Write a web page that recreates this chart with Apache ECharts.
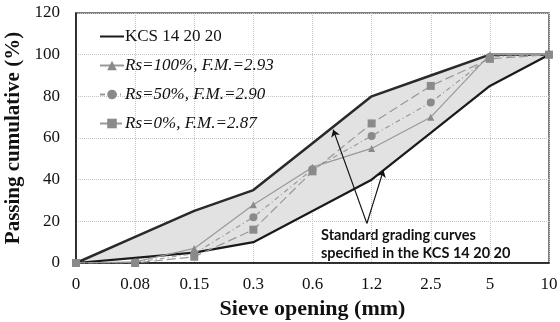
<!DOCTYPE html>
<html>
<head>
<meta charset="utf-8">
<script src="https://cdn.jsdelivr.net/npm/echarts@6/dist/echarts.min.js"></script>
<style>
  html, body { margin: 0; padding: 0; background: #fff; }
  #chart { width: 560px; height: 322px; }
</style>
</head>
<body>
<div id="chart"></div>
<script>
// sieve sizes (mm) and passing percentages
const sieves = ["0", "0.08", "0.15", "0.3", "0.6", "1.2", "2.5", "5", "10"];
const kcsLower = [0, 2.5, 5, 10, 25, 40, 62.5, 85, 100];
const kcsUpper = [0, 12.5, 25, 35, 57.5, 80, 90, 100, 100];
const rs100 = [0, 0.5, 7, 28, 46, 55, 70, 100, 100];
const rs50 = [0, 0.3, 4.5, 22, 45, 61, 77, 99, 100];
const rs0 = [0, 0, 3, 16, 44, 67, 85, 98, 100];
const yTicks = [0, 20, 40, 60, 80, 100, 120];

// arrow annotation: start (apex) and the two tips, [sieve index, percent]
const arrowFrom = [4.92, 19];
const arrowTips = [[4.35, 64], [5.2, 44.6]];

const serif = "Liberation Serif";
const gray = "#8a8a8a";

const chart = echarts.init(document.getElementById("chart"));

const option = {
    animation: false,
    grid: {
        left: 76,
        right: 11,
        top: 13,
        bottom: 59,
        outerBoundsMode: "none",
        show: true,
        borderColor: "#555",
        borderWidth: 1.5,
    },
    legend: {
        orient: "vertical",
        left: 94,
        top: 23,
        itemWidth: 24,
        itemHeight: 12,
        itemGap: 12,
        textStyle: { fontFamily: serif, fontSize: 17, color: "#111", padding: [0, 0, 0, -4] },
        data: [
            // no marker on the KCS legend line
            { name: "KCS 14 20 20", itemStyle: { opacity: 0 } },
            { name: "Rs=100%, F.M.=2.93", textStyle: { fontStyle: "italic" } },
            { name: "Rs=50%, F.M.=2.90", textStyle: { fontStyle: "italic" } },
            { name: "Rs=0%, F.M.=2.87", textStyle: { fontStyle: "italic" } },
        ],
    },
    xAxis: [
        {
            type: "category",
            data: sieves,
            boundaryGap: false,
            name: "Sieve opening (mm)",
            nameLocation: "middle",
            nameGap: 31,
            nameTextStyle: { fontFamily: serif, fontSize: 22, fontWeight: "bold", color: "#111" },
            axisLine: { lineStyle: { color: "#111", width: 1.5 } },
            axisTick: { show: false },
            axisLabel: { fontFamily: serif, fontSize: 17, color: "#111", margin: 13 },
            splitLine: { show: true, lineStyle: { color: "#c4c4c4", type: "dotted" } },
        },
        {
            // hidden helper axis so the arrows can sit between sieve sizes
            type: "value",
            min: 0,
            max: sieves.length - 1,
            show: false,
        },
    ],
    yAxis: {
        type: "value",
        min: yTicks[0],
        max: yTicks[yTicks.length - 1],
        interval: 20,
        name: "Passing cumulative (%)",
        nameLocation: "middle",
        nameGap: 49,
        nameTextStyle: { fontFamily: serif, fontSize: 21, fontWeight: "bold", color: "#111" },
        axisLine: { show: true, lineStyle: { color: "#111", width: 1.5 } },
        axisTick: { show: false },
        axisLabel: { fontFamily: serif, fontSize: 17, color: "#111", margin: 16 },
        splitLine: { lineStyle: { color: "#c4c4c4", type: "dotted" } },
    },
    graphic: [
        {
            type: "text",
            left: 321,
            top: 226,
            style: {
                text: "Standard grading curves\nspecified in the KCS 14 20 20",
                font: "bold 14.5px Lato",
                lineHeight: 18,
                fill: "#111",
            },
        },
    ],
    series: [
        {
            name: "KCS 14 20 20",
            type: "line",
            stack: "band",
            symbol: "none",
            z: 3,
            color: "#1a1a1a",
            lineStyle: { color: "#1a1a1a", width: 2.2 },
            data: kcsLower,
        },
        {
            name: "KCS 14 20 20",
            type: "line",
            stack: "band",
            symbol: "none",
            z: 3,
            color: "#1a1a1a",
            lineStyle: { color: "#2a2a2a", width: 2.5 },
            areaStyle: { color: "#e2e2e2", opacity: 1 },
            data: kcsUpper.map((v, i) => v - kcsLower[i]),
        },
        {
            name: "Rs=100%, F.M.=2.93",
            type: "line",
            symbol: "triangle",
            symbolSize: 7,
            z: 4,
            color: gray,
            lineStyle: { color: "#999", width: 1.2 },
            itemStyle: { color: gray },
            data: rs100,
        },
        {
            name: "Rs=50%, F.M.=2.90",
            type: "line",
            symbol: "circle",
            symbolSize: 8,
            z: 4,
            color: gray,
            lineStyle: { color: "#999", width: 1.2, type: [5, 3, 1, 3] },
            itemStyle: { color: gray },
            data: rs50,
        },
        {
            name: "Rs=0%, F.M.=2.87",
            type: "line",
            symbol: "rect",
            symbolSize: 8,
            z: 4,
            color: gray,
            lineStyle: { color: "#999", width: 1.2, type: [9, 4] },
            itemStyle: { color: gray },
            data: rs0,
        },
        {
            name: "arrows",
            type: "line",
            xAxisIndex: 1,
            data: [],
            z: 6,
            markLine: {
                silent: true,
                symbol: ["none", "arrow"],
                symbolSize: 7,
                label: { show: false },
                lineStyle: { color: "#111", width: 1.2, type: "solid" },
                data: arrowTips.map((tip) => [{ coord: arrowFrom }, { coord: tip }]),
            },
        },
    ],
};

chart.setOption(option);
</script>
</body>
</html>
